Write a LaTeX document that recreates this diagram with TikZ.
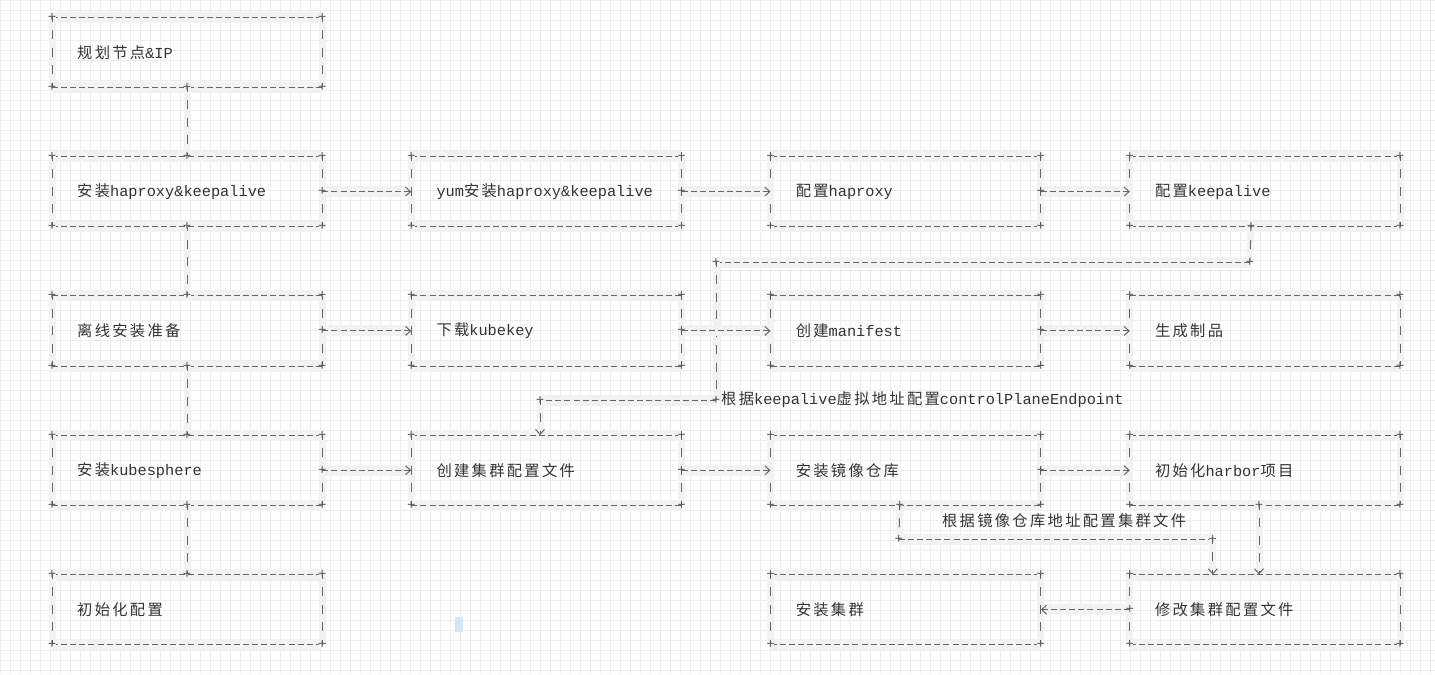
\documentclass[tikz,border=0pt]{standalone}
\usepackage{fontspec}
\setmainfont{Liberation Mono}
\newfontfamily\zhfont[LetterSpace=15]{Noto Sans CJK SC}
\newcommand{\zh}[1]{{\zhfont #1}}
\usetikzlibrary{positioning, arrows.meta}
\tikzset{>={Straight Barb[length=5pt,width=9pt]}}
\definecolor{cursorblue}{HTML}{D3E5FA}

\begin{document}
\begin{tikzpicture}
    [x=1pt, y=-1pt,
      box/.style={minimum height=70pt, text width=220pt, inner xsep=25pt,
        inner ysep=0pt, align=left, text=black!80,
        font=\fontsize{15.3}{18}\selectfont},
      band/.style={preaction={draw=black!5, line width=#1, solid, arrows=-}},
      hline/.style={draw=black!60, line width=1pt,
        dash pattern=on 6pt off 3.1pt, band=11pt},
      vline/.style={draw=black!60, line width=1pt,
        dash pattern=on 9pt off 8.5pt, dash phase=4.5pt, band=7pt},
      cross/.style={inner sep=0pt, text=black!65, font=\fontsize{14}{14}\selectfont},
      lbl/.style={inner sep=0pt, text=black!80, font=\fontsize{15.3}{18}\selectfont}]

    % background grid
    \fill[white] (0,0) rectangle (1435,674);
    \draw[black!7, line width=0.5pt, step=10pt] (0pt,-674pt) grid (1435pt,0pt);
    \useasboundingbox (0,0) rectangle (1435,674);

    % first column
    \node[box] at (187,52) (plan) {\zh{规划节点}\&IP};
    \node[box, below=69pt of plan] (ha) {\zh{安装}haproxy\&keepalive};
    \node[box, below=69pt of ha] (prep) {\zh{离线安装准备}};
    \node[box, below=69pt of prep] (ks) {\zh{安装}kubesphere};
    \node[box, below=69pt of ks] (init) {\zh{初始化配置}};

    % other columns
    \node[box, right=89pt of ha] (yum) {yum\zh{安装}haproxy\&keepalive};
    \node[box, right=89pt of yum] (cfgha) {\zh{配置}haproxy};
    \node[box, right=89pt of cfgha] (cfgka) {\zh{配置}keepalive};
    \node[box, right=89pt of prep] (kk) {\zh{下载}kubekey};
    \node[box, right=89pt of kk] (mani) {\zh{创建}manifest};
    \node[box, right=89pt of mani] (art) {\zh{生成制品}};
    \node[box, right=89pt of ks] (conf) {\zh{创建集群配置文件}};
    \node[box, right=89pt of conf] (reg) {\zh{安装镜像仓库}};
    \node[box, right=89pt of reg] (harbor) {\zh{初始化}harbor\zh{项目}};
    \node[box, below=69pt of reg] (inst) {\zh{安装集群}};
    \node[box, right=89pt of inst] (mod) {\zh{修改集群配置文件}};

    % ascii borders
    \foreach \b in {plan, ha, prep, ks, init, yum, cfgha, cfgka, kk, mani,
        art, conf, reg, harbor, inst, mod} {
      \draw[hline] (\b.north west) -- (\b.north east);
      \draw[hline] (\b.south west) -- (\b.south east);
      \draw[vline] (\b.north west) -- (\b.south west);
      \draw[vline] (\b.north east) -- (\b.south east);
      \foreach \c in {north west, north east, south west, south east}
        \node[cross] at (\b.\c) {+};
    }

    % first column links
    \foreach \a/\b in {plan/ha, ha/prep, prep/ks, ks/init} {
      \draw[vline] (\a.south) -- (\b.north);
      \node[cross] at (\a.south) {+};
      \node[cross] at (\b.north) {+};
    }

    % keepalive -> controlPlaneEndpoint
    \coordinate (kaout) at ([xshift=-14pt]cfgka.south);
    \coordinate (katurn) at (1250,262);
    \coordinate (kaleft) at (716,262);
    \coordinate (kasplit) at (716,400);
    \coordinate (cpe) at (540,400);
    \draw[vline] (kaout) -- (katurn);
    \draw[hline] (katurn) -- (kaleft);
    \draw[vline] (kaleft) -- (kasplit);
    \draw[hline] (kasplit) -- (cpe);
    \draw[vline, ->] (cpe) -- (cpe |- conf.north);
    \foreach \p in {kaout, katurn, kaleft, kasplit, cpe}
      \node[cross] at (\p) {+};
    \node[lbl, anchor=west] (cpelbl) at ([xshift=5pt]kasplit)
      {\zh{根据}keepalive\zh{虚拟地址配置}controlPlaneEndpoint};

    % registry / harbor -> cluster file
    \coordinate (regout) at ([xshift=-6pt]reg.south);
    \coordinate (regturn) at (899,539);
    \coordinate (modturn) at (1213,539);
    \coordinate (hbout) at ([xshift=-6pt]harbor.south);
    \draw[vline] (regout) -- (regturn);
    \draw[hline] (regturn) -- (modturn);
    \draw[vline, ->] (modturn) -- (modturn |- mod.north);
    \draw[vline, ->] (hbout) -- (hbout |- mod.north);
    \foreach \p in {regout, regturn, modturn, hbout}
      \node[cross] at (\p) {+};
    \node[lbl, anchor=west] (reglbl) at (942,521) {\zh{根据镜像仓库地址配置集群文件}};

    % row arrows
    \foreach \a/\b in {ha/yum, yum/cfgha, cfgha/cfgka, prep/kk, kk/mani,
        mani/art, ks/conf, conf/reg, reg/harbor} {
      \draw[hline, ->] (\a.east) -- (\b.west);
      \node[cross] at (\a.east) {+};
    }
    \draw[hline, ->] (mod.west) -- (inst.east);
    \node[cross] at (mod.west) {+};

    \fill[cursorblue] (455,617) rectangle (463,632);
  \end{tikzpicture}
\end{document}
